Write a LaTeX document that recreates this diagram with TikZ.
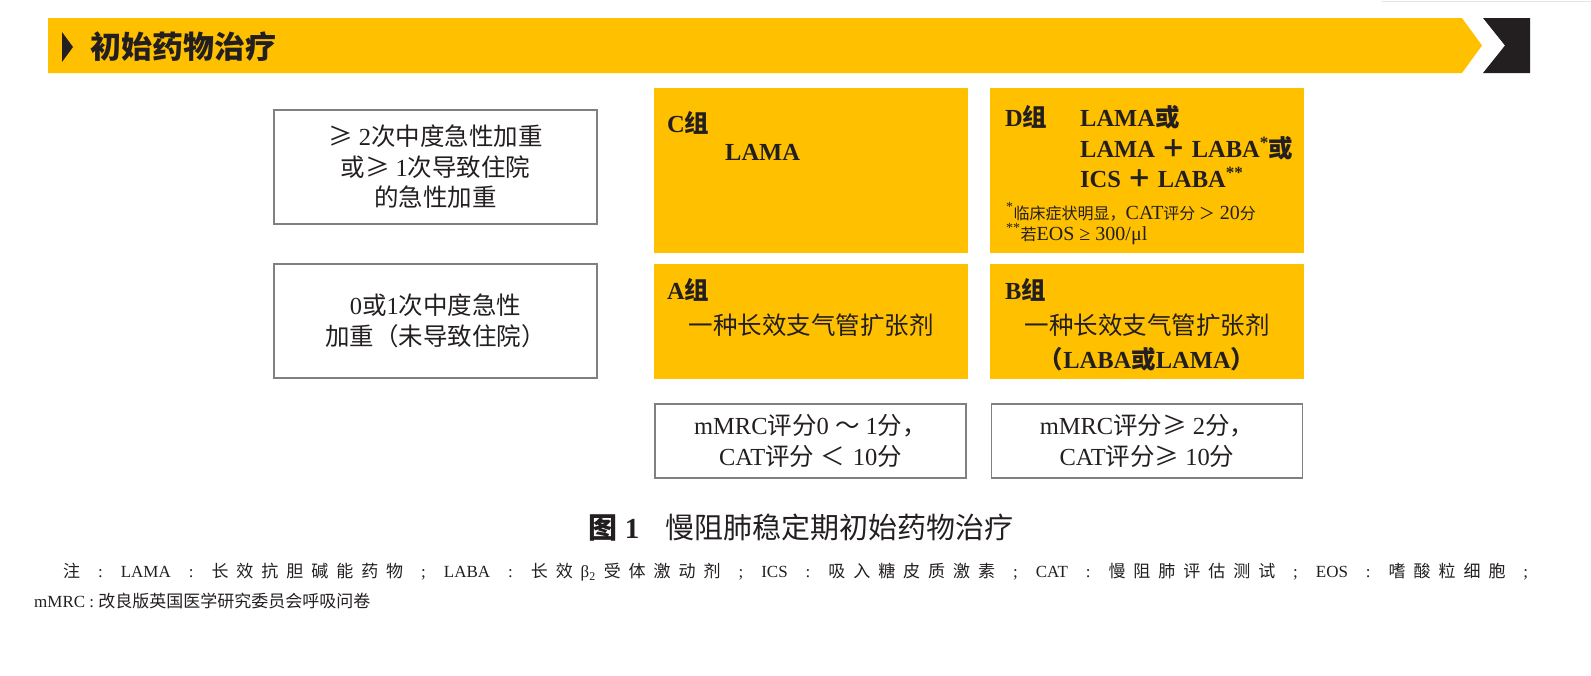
\documentclass[tikz,border=0pt]{standalone}
\usepackage{fontspec}
\usepackage{tikz}
\setmainfont{Liberation Serif}
\newfontfamily\cjk{Noto Sans CJK SC}
\newcommand\zh[1]{{\cjk #1}}
\newcommand\zhs[1]{{\cjk\fontsize{16}{18}\selectfont #1}}
% spread characters of a CJK run over the line
\newcommand\cgap{\hskip 0pt plus 1fil\relax}
\newcommand\gap{\hskip 10pt plus 1fil\relax}
\newcommand\zhsp[1]{{\cjk\zhspA#1\relax}}
\def\zhspA#1{#1\zhspB}
\def\zhspB#1{\ifx#1\relax\else\cgap#1\expandafter\zhspB\fi}
\newcommand\boxfont{\fontsize{24.5}{30.5}\selectfont}
\definecolor{amber}{RGB}{255,192,0}
\definecolor{ink}{RGB}{35,31,32}
\definecolor{boxgray}{RGB}{128,128,128}

\begin{document}
\begin{tikzpicture}[x=1pt, y=-1pt,
  whitebox/.style={draw=boxgray, line width=1.2pt, minimum width=323pt, minimum height=114pt, align=center, text=ink, font=\boxfont},
  yelbox/.style={fill=amber, minimum width=314pt, inner sep=0pt},
  scorebox/.style={draw=boxgray, line width=1.2pt, minimum width=311pt, minimum height=74pt, align=center, text=ink, font=\boxfont},
  lab/.style={anchor=west, inner sep=0pt, text=ink, font=\boxfont\bfseries},
  notetext/.style={anchor=west, inner sep=0pt, text=ink, font=\fontsize{17}{20}\selectfont},
  footnote/.style={anchor=west, inner sep=0pt, text=ink, font=\fontsize{20}{22}\selectfont}]
\useasboundingbox (0,0) rectangle (1591,675);
\draw[gray!20, line width=1.5pt] (1382,1.5) -- (1591,1.5);

% header bar
\fill[amber] (48,18) -- (1462,18) -- (1482,45.5) -- (1462,73) -- (48,73) -- cycle;
\fill[ink] (1483,18) -- (1530,18) -- (1530,73) -- (1483,73) -- (1505,45.5) -- cycle;
\fill[ink] (62,32) -- (73,47) -- (62,62) -- cycle;
\node[anchor=west, inner sep=0pt, text=ink, font=\fontsize{31}{34}\selectfont\bfseries] (title) at (90,47) {\zh{初始药物治疗}};

% left column
\node[whitebox] (exacHigh) at (435.5,167) {\zh{≥} 2\zh{次中度急性加重}\\\zh{或≥} 1\zh{次导致住院}\\\zh{的急性加重}};
\node[whitebox] (exacLow) at (435.5,321) {0\zh{或}1\zh{次中度急性}\\\zh{加重（未导致住院）}};

% group boxes
\node[yelbox, minimum height=165pt] (grpC) at (811,170.5) {};
\node[yelbox, minimum height=165pt] (grpD) at (1147,170.5) {};
\node[yelbox, minimum height=115pt] (grpA) at (811,321.5) {};
\node[yelbox, minimum height=115pt] (grpB) at (1147,321.5) {};

\node[lab] (cLab) at (667,123) {C\zh{组}};
\node[lab] (cDrug) at (725,152) {LAMA};

\node[lab] (dLab) at (1005,117) {D\zh{组}};
\node[lab] (dOpt1) at (1080,117) {LAMA\zh{或}};
\node[lab] (dOpt2) at (1080,148) {LAMA \zh{＋} LABA\textsuperscript{*}\zh{或}};
\node[lab] (dOpt3) at (1080,177) {ICS \zh{＋} LABA\textsuperscript{**}};
\node[footnote] (dNote1) at (1006,212) {\textsuperscript{*}\zhs{临床症状明显，}CAT\zhs{评分}\,\zhs{＞} 20\zhs{分}};
\node[footnote] (dNote2) at (1006,234) {\textsuperscript{**}\zhs{若}EOS ≥ 300/μl};

\node[lab] (aLab) at (667,290) {A\zh{组}};
\node[lab, anchor=center, font=\boxfont] (aDrug) at (811,325) {\zh{一种长效支气管扩张剂}};
\node[lab] (bLab) at (1005,290) {B\zh{组}};
\node[lab, anchor=center, font=\boxfont] (bDrug) at (1147,325) {\zh{一种长效支气管扩张剂}};
\node[lab, anchor=center] (bDrug2) at (1147,359) {\zh{（}LABA\zh{或}LAMA\zh{）}};

% symptom boxes
\node[scorebox] (symLow) at (810.5,441) {mMRC\zh{评分}0 \zh{～} 1\zh{分，}\\CAT\zh{评分}\hspace{6pt}\zh{＜}\hspace{8pt}10\zh{分}};
\node[scorebox] (symHigh) at (1147,441) {mMRC\zh{评分≥} 2\zh{分，}\\CAT\zh{评分≥} 10\zh{分}};

% caption and note
\node[text=ink, font=\fontsize{29}{32}\selectfont] (cap) at (801,528) {\textbf{\zh{图} 1}\hspace{0.9em}\zh{慢阻肺稳定期初始药物治疗}};
\node[notetext] (note1) at (63,572) {\makebox[1465pt][s]{\zh{注}\gap:\gap LAMA\gap:\gap\zhsp{长效抗胆碱能药物}\gap;\gap LABA\gap:\gap\zhsp{长效}\cgap β\textsubscript{2}\cgap\zhsp{受体激动剂}\gap;\gap ICS\gap:\gap\zhsp{吸入糖皮质激素}\gap;\gap CAT\gap:\gap\zhsp{慢阻肺评估测试}\gap;\gap EOS\gap:\gap\zhsp{嗜酸粒细胞}\gap;}};
\node[notetext] (note2) at (34,601) {mMRC : \zh{改良版英国医学研究委员会呼吸问卷}};
\end{tikzpicture}
\end{document}
